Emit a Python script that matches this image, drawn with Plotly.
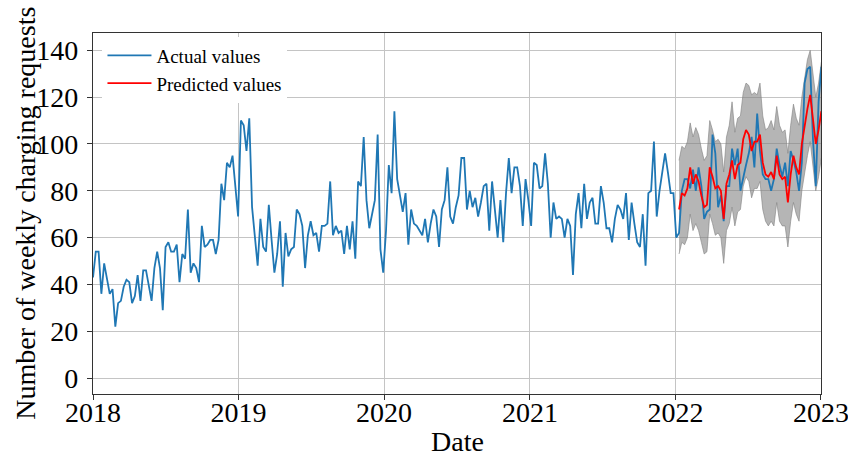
import pandas as pd
import plotly.graph_objects as go

# Weekly charging requests, one list per calendar year (Monday-stamped weeks)
actual_2018 = [43, 54, 54, 36, 49, 43, 36, 38, 22, 32, 33, 39, 42, 41, 32, 35, 44, 33,
               46, 46, 40, 33, 47, 54, 47, 29, 56, 58, 54, 54, 57, 41, 53, 51, 72, 45,
               49, 47, 41, 65, 56, 57, 59, 59, 53, 59, 83, 76, 92, 90, 95, 80, 69]
actual_2019 = [110, 108, 97, 111, 73, 59, 48, 68, 56, 54, 74, 59, 45, 53, 67, 39, 62, 52,
               55, 56, 72, 70, 65, 47, 61, 67, 61, 62, 54, 65, 65, 66, 84, 61, 65, 62,
               63, 53, 65, 55, 67, 51, 84, 82, 103, 76, 64, 70, 76, 104, 55, 45]
actual_2020 = [63, 91, 79, 114, 85, 78, 71, 79, 57, 72, 66, 65, 63, 61, 68, 58, 66, 72,
               69, 56, 72, 76, 90, 69, 66, 73, 78, 94, 94, 72, 80, 73, 77, 69, 75, 82,
               83, 63, 84, 72, 60, 76, 58, 79, 94, 79, 90, 90, 82, 65, 85, 76]
actual_2021 = [65, 92, 91, 81, 82, 96, 83, 60, 75, 68, 69, 68, 60, 68, 65, 44, 70, 79,
               64, 83, 68, 75, 77, 66, 66, 82, 75, 64, 64, 58, 68, 74, 72, 68, 79, 59,
               75, 66, 58, 56, 70, 48, 79, 80, 101, 69, 80, 88, 96, 88, 79, 79]
actual_2022 = [60, 62, 80, 85, 85, 81, 89, 80, 90, 82, 68, 71, 72, 104, 96, 73, 78, 67,
               82, 82, 98, 91, 98, 80, 86, 91, 96, 103, 90, 113, 97, 87, 85, 85, 80, 85,
               98, 91, 86, 92, 82, 97, 93, 88, 80, 92, 126, 132, 133, 102, 82, 118, 133]

# Model forecast for the test year and its uncertainty band
predicted = [72, 79, 78, 81, 90, 83, 87, 84, 78, 73, 74, 90, 86, 81, 82, 80, 68, 83,
             87, 93, 85, 91, 92, 102, 106, 104, 97, 101, 101, 104, 92, 87, 86, 88, 85, 95,
             87, 85, 86, 75, 87, 95, 90, 87, 100, 108, 115, 121, 109, 100, 106, 114]
band_upper = [93, 99, 98, 101, 109, 103, 107, 104, 98, 93, 95, 110, 106, 101, 102, 100, 88, 103,
              108, 118, 105, 111, 112, 122, 126, 125, 121, 122, 121, 126, 112, 106, 107, 110, 106, 116,
              108, 105, 106, 96, 108, 117, 111, 108, 120, 128, 136, 140, 130, 120, 126, 135]
band_lower = [53, 58, 57, 60, 70, 63, 66, 63, 58, 53, 54, 70, 66, 61, 62, 60, 49, 63,
              66, 73, 65, 71, 72, 82, 86, 84, 77, 81, 81, 84, 72, 67, 65, 67, 65, 75,
              67, 65, 65, 56, 67, 75, 70, 67, 80, 88, 95, 101, 89, 80, 86, 94]

year_ticks = ["2018", "2019", "2020", "2021", "2022", "2023"]
y_ticks = [0, 20, 40, 60, 80, 100, 120, 140]

actual = actual_2018 + actual_2019 + actual_2020 + actual_2021 + actual_2022
dates = pd.date_range("2018-01-01", periods=len(actual), freq="7D")
pred_dates = dates[-len(predicted):]

FONT = "Liberation Serif, Times New Roman, serif"

fig = go.Figure()

fig.add_trace(go.Scatter(
    x=list(pred_dates), y=band_upper, mode="lines",
    line=dict(color="rgba(128,128,128,0.75)", width=0.8),
    showlegend=False, hoverinfo="skip"))
fig.add_trace(go.Scatter(
    x=list(pred_dates), y=band_lower, mode="lines", fill="tonexty",
    fillcolor="rgba(128,128,128,0.58)",
    line=dict(color="rgba(128,128,128,0.75)", width=0.8),
    showlegend=False, hoverinfo="skip"))

fig.add_trace(go.Scatter(
    x=list(dates), y=actual, mode="lines", name="Actual values",
    line=dict(color="#1f77b4", width=1.8)))
fig.add_trace(go.Scatter(
    x=list(pred_dates), y=predicted, mode="lines", name="Predicted values",
    line=dict(color="#ff0000", width=1.8)))

axis_common = dict(
    showline=True, linecolor="#333333", linewidth=1.2, mirror=True,
    showgrid=True, gridcolor="#c4c4c4", gridwidth=1,
    ticks="outside", ticklen=5, tickwidth=1, tickcolor="#333333",
    tickfont=dict(family=FONT, size=28, color="black"),
    zeroline=False, automargin=False,
)

fig.update_xaxes(
    range=["2018-01-01", "2023-01-01 02:00"],
    tickvals=[f"{y}-01-01" for y in year_ticks], ticktext=year_ticks,
    ticklabelstandoff=-12, ticklabeloverflow="allow",
    **axis_common)
fig.update_yaxes(
    range=[-6.8, 147.4], tickvals=y_ticks, ticklabelstandoff=3,
    **axis_common)

fig.update_layout(
    width=848, height=456,
    margin=dict(l=93, r=27, t=33, b=62),
    paper_bgcolor="white", plot_bgcolor="white",
    font=dict(family=FONT, color="black"),
    showlegend=True,
    legend=dict(x=0.013, y=0.990, xanchor="left", yanchor="top",
                bgcolor="white", borderwidth=0, traceorder="normal",
                itemwidth=44,
                font=dict(family=FONT, size=19, color="black"),
                tracegroupgap=0),
    annotations=[
        dict(text="Date", xref="paper", yref="paper", x=0.5, y=-0.132,
             xanchor="center", yanchor="middle", showarrow=False,
             font=dict(family=FONT, size=28, color="black")),
        dict(text="Number of weekly charging requests", xref="paper", yref="paper",
             x=-0.093, y=0.5, xanchor="center", yanchor="middle", textangle=-90,
             showarrow=False, font=dict(family=FONT, size=28, color="black")),
    ],
)

fig.write_html("out.html")
